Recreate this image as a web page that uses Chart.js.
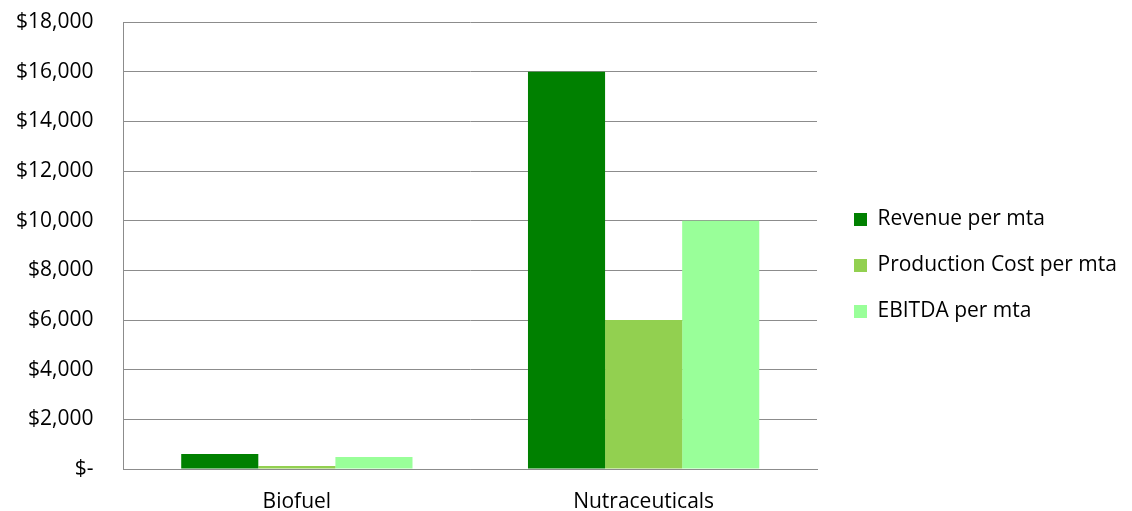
<!DOCTYPE html>
<html>
<head>
<meta charset="utf-8">
<script src="https://cdn.jsdelivr.net/npm/chart.js@4/dist/chart.umd.min.js"></script>
<style>
  html, body { margin: 0; padding: 0; background: #fff; }
  #wrap { width: 1132px; height: 511px; }
</style>
</head>
<body>
<div id="wrap"><canvas id="chart"></canvas></div>
<script>
// Chart data
const categories = ['Biofuel', 'Nutraceuticals'];
const revenue = [600, 16000];
const productionCost = [120, 6000];
const ebitda = [480, 10000];
const yTicks = [0, 2000, 4000, 6000, 8000, 10000, 12000, 14000, 16000, 18000];
const yTickLabels = ['$-', '$2,000', '$4,000', '$6,000', '$8,000', '$10,000', '$12,000', '$14,000', '$16,000', '$18,000'];

const gridColor = '#8c8c8c';
const font = { family: '"Open Sans", sans-serif', size: 21 };

// Nudge the legend a bit right and down, like the original
const legendOffset = {
    id: 'legendOffset',
    afterLayout(chart) {
        const l = chart.legend;
        if (!l) return;
        l.left += 12;
        l.right = chart.width;
        l.top += 10;
        l.bottom += 10;
    }
};

new Chart(document.getElementById('chart'), {
    type: 'bar',
    data: {
        labels: categories,
        datasets: [
            { label: 'Revenue per mta', data: revenue, backgroundColor: '#008000' },
            { label: 'Production Cost per mta', data: productionCost, backgroundColor: '#92d050' },
            { label: 'EBITDA per mta', data: ebitda, backgroundColor: '#99ff99' }
        ]
    },
    plugins: [legendOffset],
    options: {
        responsive: true,
        maintainAspectRatio: false,
        animation: false,
        layout: { padding: { top: 0, left: -14, right: 38, bottom: 0 } },
        datasets: {
            bar: { categoryPercentage: 0.667, barPercentage: 1 }
        },
        plugins: {
            tooltip: { enabled: false },
            legend: {
                position: 'right',
                align: 'center',
                labels: {
                    color: '#000',
                    font: font,
                    boxWidth: 13,
                    boxHeight: 13,
                    padding: 25
                }
            }
        },
        scales: {
            x: {
                grid: { display: false, drawTicks: false },
                border: { color: gridColor },
                ticks: { color: '#000', font: font, padding: 20 },
                afterFit: function(scale) {
                    scale.height = 42;
                }
            },
            y: {
                min: 0,
                max: 18000,
                afterBuildTicks: function(axis) {
                    axis.ticks = yTicks.map(v => ({ value: v }));
                },
                afterFit: function(scale) {
                    scale.paddingTop = 22;
                    scale.paddingBottom = 10;
                },
                grid: { color: gridColor, drawTicks: false },
                border: { color: gridColor },
                ticks: {
                    color: '#000',
                    font: font,
                    padding: 30,
                    callback: function(value) {
                        const i = yTicks.indexOf(value);
                        return i >= 0 ? yTickLabels[i] : '';
                    }
                }
            }
        }
    }
});
</script>
</body>
</html>
